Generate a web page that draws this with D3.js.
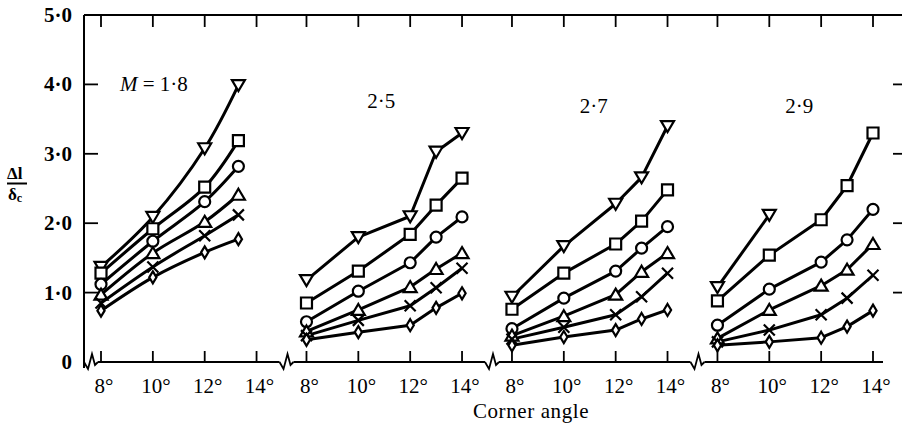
<!DOCTYPE html>
<html>
<head>
<meta charset="utf-8">
<script src="https://cdn.jsdelivr.net/npm/d3@7"></script>
<style>
  html, body { margin: 0; padding: 0; background: #fff; }
  svg { display: block; }
  text { font-family: "Liberation Serif", "DejaVu Serif", serif; fill: #000; }
</style>
</head>
<body>
<svg id="chart" width="902" height="425"></svg>
<script>
// Mach numbers, one panel each
const machLabels = ["1·8", "2·5", "2·7", "2·9"];
const angleTicks = [8, 10, 12, 14];
const yTicks = [0, 1, 2, 3, 4, 5];
const yTickLabels = ["0", "1·0", "2·0", "3·0", "4·0", "5·0"];
const seriesSymbols = ["triangleDown", "square", "circle", "triangleUp", "cross", "diamond"];

// Corner angles at which each panel was measured
const anglesM18 = [8, 10, 12, 13.3];
const anglesM25 = [8, 10, 12, 13, 14];
const anglesM27 = [8, 10, 12, 13, 14];
const anglesM29 = [8, 10, 12, 13, 14];

// Δl/δc for each series (order follows seriesSymbols)
const valuesM18 = [
  [1.37, 2.09, 3.08, 3.99],
  [1.28, 1.92, 2.52, 3.19],
  [1.12, 1.74, 2.31, 2.82],
  [0.97, 1.57, 2.02, 2.41],
  [0.85, 1.37, 1.82, 2.12],
  [0.74, 1.22, 1.58, 1.77]
];
const valuesM25 = [
  [1.18, 1.80, 2.10, 3.03, 3.30],
  [0.85, 1.31, 1.84, 2.26, 2.65],
  [0.58, 1.02, 1.43, 1.80, 2.09],
  [0.44, 0.75, 1.08, 1.34, 1.57],
  [0.38, 0.60, 0.81, 1.07, 1.35],
  [0.32, 0.43, 0.53, 0.78, 0.99]
];
const valuesM27 = [
  [0.94, 1.67, 2.28, 2.66, 3.40],
  [0.76, 1.28, 1.70, 2.03, 2.48],
  [0.48, 0.92, 1.31, 1.64, 1.95],
  [0.38, 0.66, 0.97, 1.30, 1.57],
  [0.33, 0.50, 0.68, 0.94, 1.28],
  [0.24, 0.36, 0.46, 0.62, 0.75]
];
const valuesM29 = [
  [1.08, 2.12, null, null, null],
  [0.88, 1.54, 2.05, 2.54, 3.30],
  [0.53, 1.05, 1.44, 1.76, 2.20],
  [0.34, 0.75, 1.10, 1.33, 1.70],
  [0.29, 0.46, 0.68, 0.92, 1.25],
  [0.24, 0.29, 0.35, 0.51, 0.74]
];

const panels = [
  { mach: machLabels[0], angles: anglesM18, values: valuesM18, curve: d3.curveCatmullRom },
  { mach: machLabels[1], angles: anglesM25, values: valuesM25, curve: d3.curveLinear },
  { mach: machLabels[2], angles: anglesM27, values: valuesM27, curve: d3.curveLinear },
  { mach: machLabels[3], angles: anglesM29, values: valuesM29, curve: d3.curveLinear }
];

const svg = d3.select("#chart");

// Frame geometry
const axisX = 84, topY = 15, baseY = 362, rightX = 902;

const y = d3.scaleLinear().domain([0, 5]).range([baseY, topY]);
const panelScale = d3.scaleBand().domain(machLabels).range([101, 873]).paddingInner(0.243).paddingOuter(0);
const xFor = m => d3.scaleLinear().domain([8, 14]).range([panelScale(m), panelScale(m) + panelScale.bandwidth()]);

const ink = "#000";
const g = svg.append("g");

// Left axis and top border
g.append("line").attr("x1", axisX).attr("x2", axisX).attr("y1", topY).attr("y2", baseY + 6)
  .attr("stroke", ink).attr("stroke-width", 2);
g.append("line").attr("x1", axisX).attr("x2", rightX).attr("y1", topY).attr("y2", topY)
  .attr("stroke", ink).attr("stroke-width", 2);

// Break positions along the baseline: just right of the axis, and in each gap between panels
const breaks = [axisX + 7];
machLabels.slice(0, -1).forEach((m, i) => {
  const end = panelScale(m) + panelScale.bandwidth();
  const next = panelScale(machLabels[i + 1]);
  breaks.push((end + next) / 2 + 5);
});
const baseEnd = panelScale(machLabels[3]) + panelScale.bandwidth() + 10;

// Baseline segments between the breaks
const segStarts = breaks.map(b => b + 7);
const segEnds = breaks.slice(1).map(b => b - 7).concat([baseEnd]);
segStarts.forEach((s, i) => {
  g.append("line").attr("x1", s).attr("x2", segEnds[i]).attr("y1", baseY).attr("y2", baseY)
    .attr("stroke", ink).attr("stroke-width", 2);
});
// Zig-zag break marks
breaks.forEach(b => {
  g.append("path")
    .attr("d", `M${b - 7},${baseY} L${b - 3},${baseY + 7} L${b + 1},${baseY - 8} L${b + 4},${baseY + 3} L${b + 7},${baseY}`)
    .attr("fill", "none").attr("stroke", ink).attr("stroke-width", 1.8).attr("stroke-linejoin", "miter");
});

// Angle ticks (bottom, pointing up; top, pointing down) and labels
panels.forEach(p => {
  const x = xFor(p.mach);
  angleTicks.forEach(a => {
    g.append("line").attr("x1", x(a)).attr("x2", x(a)).attr("y1", baseY).attr("y2", baseY - 11)
      .attr("stroke", ink).attr("stroke-width", 1.8);
    g.append("line").attr("x1", x(a)).attr("x2", x(a)).attr("y1", topY).attr("y2", topY + 12)
      .attr("stroke", ink).attr("stroke-width", 1.8);
    g.append("text").attr("x", x(a) + 3).attr("y", 393).attr("text-anchor", "middle")
      .attr("font-size", 21).text(a + "°");
  });
});

// Value ticks on left (inward) and right edge
yTicks.forEach((v, i) => {
  if (v > 0 && v < 5) {
    g.append("line").attr("x1", axisX).attr("x2", axisX + 14).attr("y1", y(v)).attr("y2", y(v))
      .attr("stroke", ink).attr("stroke-width", 1.8);
    g.append("line").attr("x1", rightX - 9).attr("x2", rightX).attr("y1", y(v)).attr("y2", y(v))
      .attr("stroke", ink).attr("stroke-width", 1.8);
  }
  g.append("text").attr("x", 72).attr("y", y(v) + 7).attr("text-anchor", "end")
    .attr("font-size", 21).attr("font-weight", "bold").text(yTickLabels[i]);
});

// Axis titles: Δl over δc as a fraction
const yt = g.append("g");
yt.append("text").attr("x", 7).attr("y", 179).attr("font-size", 17).attr("font-weight", "bold")
  .text("Δl");
yt.append("line").attr("x1", 7).attr("x2", 27).attr("y1", 183.5).attr("y2", 183.5)
  .attr("stroke", ink).attr("stroke-width", 2);
const dc = yt.append("text").attr("x", 8).attr("y", 200).attr("font-size", 17).attr("font-weight", "bold");
dc.append("tspan").text("δ");
dc.append("tspan").attr("font-size", 12).attr("dy", 2).text("c");

g.append("text").attr("x", 531).attr("y", 418).attr("text-anchor", "middle")
  .attr("font-size", 21).attr("letter-spacing", 0.6).text("Corner angle");

// Panel labels
const m18 = g.append("text").attr("x", 120).attr("y", 91).attr("font-size", 21);
m18.append("tspan").attr("font-style", "italic").text("M");
m18.append("tspan").text(" = " + machLabels[0]);
[1, 2, 3].forEach(i => {
  const m = machLabels[i];
  g.append("text").attr("x", panelScale(m) + panelScale.bandwidth() / 2 + (i === 1 ? -3 : 4))
    .attr("y", i === 1 ? 108 : 113).attr("text-anchor", "middle").attr("font-size", 21).text(m);
});

// Marker shapes
const markerPath = {
  triangleDown: "M-6.5,-5 L6.5,-5 L0,6 Z",
  square: "M-5.5,-5.5 H5.5 V5.5 H-5.5 Z",
  circle: d3.symbol(d3.symbolCircle, 95)(),
  triangleUp: "M0,-6 L6.5,5 L-6.5,5 Z",
  cross: "M-5.5,-5.5 L5.5,5.5 M5.5,-5.5 L-5.5,5.5",
  diamond: "M0,-6 L3.6,0 L0,6 L-3.6,0 Z"
};

// Series lines and markers
panels.forEach(p => {
  const x = xFor(p.mach);
  const line = d3.line()
    .defined(d => d.v != null)
    .x(d => x(d.a)).y(d => y(d.v))
    .curve(p.curve);
  const pg = g.append("g");
  p.values.forEach(series => {
    const pts = series.map((v, j) => ({ a: p.angles[j], v }));
    pg.append("path").datum(pts).attr("d", line)
      .attr("fill", "none").attr("stroke", ink).attr("stroke-width", 3)
      .attr("stroke-linejoin", "round");
  });
  p.values.forEach((series, k) => {
    const sym = seriesSymbols[k];
    series.forEach((v, j) => {
      if (v == null) return;
      pg.append("path").attr("d", markerPath[sym])
        .attr("transform", `translate(${x(p.angles[j])},${y(v)})`)
        .attr("fill", sym === "cross" ? "none" : "#fff")
        .attr("stroke", ink).attr("stroke-width", 2.2);
    });
  });
});
</script>
</body>
</html>
